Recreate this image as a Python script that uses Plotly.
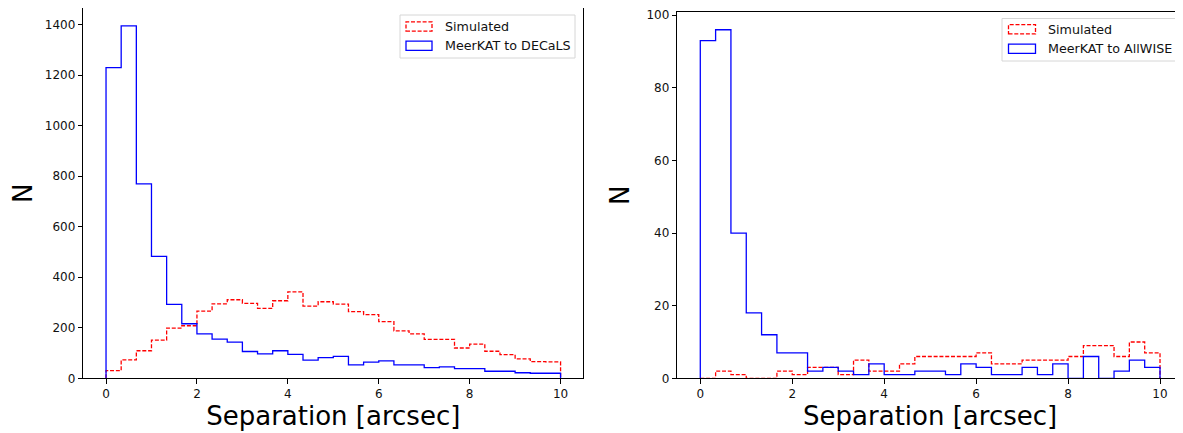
import numpy as np
import plotly.graph_objects as go

# ---- data (30 bins, 0..10 arcsec) ----
bin_lo, bin_hi, n_bins = 0.0, 10.0, 30
decals_counts = [1230, 1395, 770, 483, 293, 216, 176, 155, 143, 106,
                 97, 109, 95, 72, 82, 87, 53, 64, 69, 53,
                 53, 42, 45, 38, 38, 28, 28, 22, 20, 20]
decals_sim = [30, 73, 109, 151, 199, 208, 266, 295, 311, 297,
              277, 307, 342, 286, 303, 294, 264, 252, 224, 188,
              176, 154, 154, 120, 135, 107, 94, 77, 66, 65]
allwise_counts = [93, 96, 40, 18, 12, 7, 7, 2, 3, 2,
                  1, 4, 1, 1, 2, 2, 1, 4, 3, 1,
                  1, 3, 1, 4, 0, 6, 0, 2, 5, 3]
allwise_sim = [0, 2, 1, 0, 0, 2, 1, 3, 3, 1,
               5, 2, 2, 4, 6, 6, 6, 6, 7, 4,
               4, 5, 5, 5, 6, 9, 9, 6, 10, 7]
left_names = ["Simulated", "MeerKAT to DECaLS"]
right_names = ["Simulated", "MeerKAT to AllWISE"]
x_ticks = [0, 2, 4, 6, 8, 10]
left_yticks = [0, 200, 400, 600, 800, 1000, 1200, 1400]
right_yticks = [0, 20, 40, 60, 80, 100]

edges = np.linspace(bin_lo, bin_hi, n_bins + 1)


def step_xy(counts):
    xs = [edges[0]] + list(edges[:-1]) + [edges[-1], edges[-1]]
    ys = [0] + list(counts) + [counts[-1], 0]
    return xs, ys


RED = "#ff0000"
BLUE = "#0000ff"
FONT = "DejaVu Sans"
DASH = "4px,1.8px"

# page is rendered with an 8px body margin
OFF = 8
W, H = 1175, 425


def px(sx):
    return (sx - OFF) / W


def py(sy):
    return 1 - (sy - OFF) / H


fig = go.Figure()


def add_hist(counts, color, dash, xa, ya):
    xs, ys = step_xy(counts)
    fig.add_trace(go.Scatter(
        x=xs, y=ys, mode="lines", line_shape="hv",
        line=dict(color=color, width=1.3, dash=dash),
        xaxis=xa, yaxis=ya, showlegend=False, hoverinfo="skip"))


add_hist(decals_sim, RED, DASH, "x", "y")
add_hist(decals_counts, BLUE, "solid", "x", "y")
add_hist(allwise_sim, RED, DASH, "x2", "y2")
add_hist(allwise_counts, BLUE, "solid", "x2", "y2")

axis_common = dict(
    showgrid=False, zeroline=False, showline=True, linecolor="black",
    linewidth=1, mirror=True, ticks="outside", ticklen=4.5, tickwidth=1,
    tickcolor="black", tickfont=dict(family=FONT, size=12, color="#111"),
    automargin=False,
)

left_ymax = max(decals_counts) * 1.05
right_ymax = max(allwise_counts) * 1.05
TITLE_SIZE = 26

shapes = []
annotations = []


def legend(box, icon_x0, icon_x1, text_x, rows, names):
    bx0, by0, bx1, by1 = box
    shapes.append(dict(type="rect", xref="paper", yref="paper",
                       x0=px(bx0), x1=px(bx1), y0=py(by1), y1=py(by0),
                       line=dict(color="#d6d6d6", width=1),
                       fillcolor="rgba(255,255,255,0.8)", layer="above"))
    for (cy, name, color, dash) in zip(rows, names, [RED, BLUE], [DASH, "solid"]):
        shapes.append(dict(type="rect", xref="paper", yref="paper",
                           x0=px(icon_x0), x1=px(icon_x1),
                           y0=py(cy + 4.6), y1=py(cy - 4.6),
                           line=dict(color=color, width=1.3, dash=dash),
                           fillcolor="rgba(0,0,0,0)", layer="above"))
        annotations.append(dict(xref="paper", yref="paper", x=px(text_x), y=py(cy),
                                xanchor="left", yanchor="middle", text=name,
                                showarrow=False,
                                font=dict(family=FONT, size=12.7, color="#111")))


legend((400, 15, 575, 58), 406, 432, 442.5, [26.5, 45.7], left_names)
legend((1002, 18.5, 1177, 61), 1008.5, 1035.5, 1046, [29.3, 48.8], right_names)

fig.update_layout(
    width=W, height=H,
    margin=dict(l=0, r=0, t=0, b=0),
    paper_bgcolor="white", plot_bgcolor="white",
    font=dict(family=FONT, color="black"),
    xaxis=dict(domain=[px(83.3), px(583.3)], range=[-0.5, 10.5], tickvals=x_ticks,
               anchor="y",
               title=dict(text="Separation [arcsec]", font=dict(size=TITLE_SIZE), standoff=5),
               **axis_common),
    yaxis=dict(domain=[py(378.3), py(8.3)], range=[0, left_ymax],
               tickvals=left_yticks, anchor="x",
               title=dict(text="N", font=dict(size=TITLE_SIZE), standoff=9),
               **axis_common),
    xaxis2=dict(domain=[px(677.3), 1.0], range=[-0.5, 10.5], tickvals=x_ticks,
                anchor="y2",
                title=dict(text="Separation [arcsec]", font=dict(size=TITLE_SIZE), standoff=5),
                **axis_common),
    yaxis2=dict(domain=[py(378.3), py(12.3)], range=[0, right_ymax],
                tickvals=right_yticks, anchor="x2",
                title=dict(text="N", font=dict(size=TITLE_SIZE), standoff=9),
                **axis_common),
    shapes=shapes,
    annotations=annotations,
    showlegend=False,
)

fig.write_html("out.html")
